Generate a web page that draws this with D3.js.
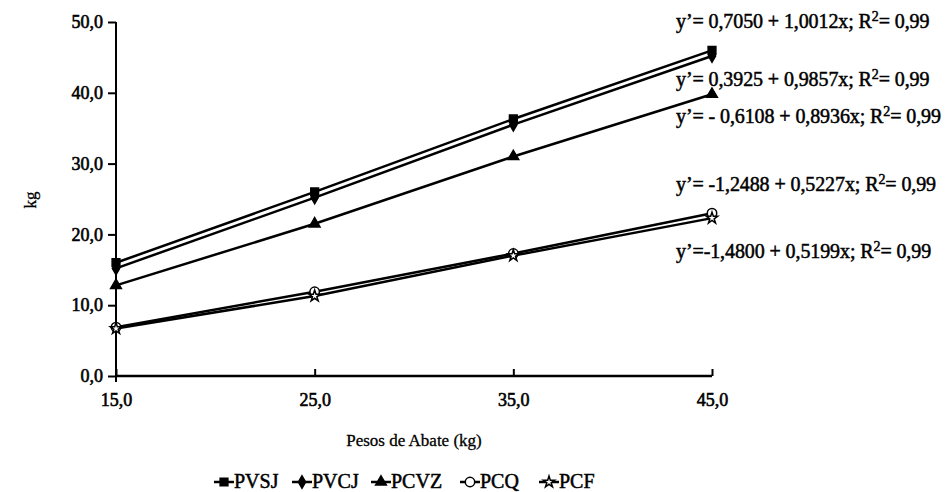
<!DOCTYPE html>
<html>
<head>
<meta charset="utf-8">
<script src="https://cdn.jsdelivr.net/npm/d3@7/dist/d3.min.js"></script>
<style>
  body { margin: 0; background: #fff; }
  svg { display: block; font-family: "Liberation Serif", "DejaVu Serif", serif; }
  .heavy { fill: #000; stroke: #000; stroke-width: 0.6px; font-family: "Liberation Serif", serif; }
</style>
</head>
<body>
<svg id="chart" width="948" height="492"></svg>
<script>
const pesos = [15, 25, 35, 45];
const seriesNames = ["PVSJ", "PVCJ", "PCVZ", "PCQ", "PCF"];
const pvsj = [16.0, 26.0, 36.3, 46.0];
const pvcj = [15.2, 25.2, 35.5, 45.2];
const pcvz = [12.8, 21.5, 31.0, 39.8];
const pcq = [6.9, 11.9, 17.3, 23.0];
const pcf = [6.7, 11.3, 17.0, 22.3];
const yTicks = [0, 10, 20, 30, 40, 50];
const yTickLabels = ["0,0", "10,0", "20,0", "30,0", "40,0", "50,0"];
const xTickLabels = ["15,0", "25,0", "35,0", "45,0"];
const equations = [
  ["y’= 0,7050 + 1,0012x; R", "= 0,99"],
  ["y’= 0,3925 + 0,9857x; R", "= 0,99"],
  ["y’= - 0,6108 + 0,8936x; R", "= 0,99"],
  ["y’= -1,2488 + 0,5227x; R", "= 0,99"],
  ["y’=-1,4800 + 0,5199x; R", "= 0,99"]
];

(() => {
  const margin = { top: 22, left: 116 };
  const innerWidth = 596;
  const innerHeight = 354;

  const svg = d3.select("#chart");
  const g = svg.append("g")
    .attr("transform", `translate(${margin.left}, ${margin.top})`);

  const x = d3.scaleLinear().domain([15, 45]).range([0, innerWidth]);
  const y = d3.scaleLinear().domain([0, 50]).range([innerHeight, 0]);

  // y axis
  const yAxis = g.append("g")
    .call(d3.axisLeft(y).tickValues(yTicks).tickSize(8)
      .tickFormat((d, i) => yTickLabels[i]));
  yAxis.select(".domain").remove();
  yAxis.append("line")
    .attr("x1", 0).attr("x2", 0)
    .attr("y1", 0).attr("y2", innerHeight + 6)
    .attr("stroke", "#000").attr("stroke-width", 2);
  yAxis.selectAll(".tick line").attr("stroke-width", 2);
  yAxis.selectAll("text")
    .attr("x", -13)
    .attr("class", "heavy")
    .style("font-size", "18px");

  // x axis
  const xAxis = g.append("g")
    .attr("transform", `translate(0, ${innerHeight})`)
    .call(d3.axisBottom(x).tickValues(pesos).tickSize(-7)
      .tickFormat((d, i) => xTickLabels[i]));
  xAxis.select(".domain")
    .attr("d", `M0,0H${innerWidth}`)
    .attr("stroke-width", 2.5);
  xAxis.selectAll(".tick line").attr("stroke-width", 2);
  xAxis.selectAll("text")
    .attr("y", 17)
    .attr("class", "heavy")
    .style("font-size", "18px");

  // axis titles
  svg.append("text")
    .attr("transform", "translate(36, 200) rotate(-90)")
    .attr("text-anchor", "middle")
    .attr("class", "heavy")
    .style("stroke-width", "0.3px")
    .style("font-size", "17px")
    .text("kg");

  svg.append("text")
    .attr("x", 414)
    .attr("y", 446)
    .attr("text-anchor", "middle")
    .attr("class", "heavy")
    .style("stroke-width", "0.3px")
    .style("font-size", "17px")
    .text("Pesos de Abate (kg)");

  const allSeries = [pvsj, pvcj, pcvz, pcq, pcf];
  const symbols = [
    { type: d3.symbolSquare, size: 60, fill: "#000" },
    { type: d3.symbolDiamond, size: 45, fill: "#000" },
    { type: d3.symbolTriangle, size: 50, fill: "#000" },
    { type: d3.symbolCircle, size: 70, fill: "#fff" },
    { type: d3.symbolStar, size: 40, fill: "#fff" }
  ];

  const line = d3.line()
    .x((d, i) => x(pesos[i]))
    .y(d => y(d));

  allSeries.forEach((vals, s) => {
    g.append("path")
      .datum(vals)
      .attr("fill", "none")
      .attr("stroke", "#000")
      .attr("stroke-width", 2.5)
      .attr("d", line);

    g.selectAll(`.pt${s}`)
      .data(vals)
      .join("path")
      .attr("class", `pt${s}`)
      .attr("transform", (d, i) => `translate(${x(pesos[i])}, ${y(d)})`)
      .attr("d", d3.symbol().type(symbols[s].type).size(symbols[s].size))
      .attr("fill", symbols[s].fill)
      .attr("stroke", "#000")
      .attr("stroke-width", 1.5);
  });

  // regression equations
  const eqY = [28, 86, 123, 191, 258];
  equations.forEach((eq, i) => {
    const t = svg.append("text")
      .attr("x", 676)
      .attr("y", eqY[i])
      .attr("class", "heavy")
      .style("stroke-width", "0.5px")
      .style("font-size", "20px")
      .style("letter-spacing", "-0.1px");
    t.append("tspan").text(eq[0]);
    t.append("tspan").attr("dy", -7).style("font-size", "14px").text("2");
    t.append("tspan").attr("dy", 7).text(eq[1]);
  });

  // legend
  const legendX = [224, 302, 381, 470, 549];
  const legendY = 482;
  seriesNames.forEach((name, s) => {
    const lg = svg.append("g").attr("transform", `translate(${legendX[s]}, ${legendY})`);
    lg.append("line")
      .attr("x1", -10).attr("x2", 10)
      .attr("stroke", "#000").attr("stroke-width", 2.5);
    lg.append("path")
      .attr("d", d3.symbol().type(symbols[s].type).size(symbols[s].size))
      .attr("fill", symbols[s].fill)
      .attr("stroke", "#000")
      .attr("stroke-width", 1.5);
    lg.append("text")
      .attr("x", 10)
      .attr("y", 6)
      .attr("class", "heavy")
      .style("stroke-width", "0.5px")
      .style("font-size", "20px")
      .text(name);
  });
})();
</script>
</body>
</html>
